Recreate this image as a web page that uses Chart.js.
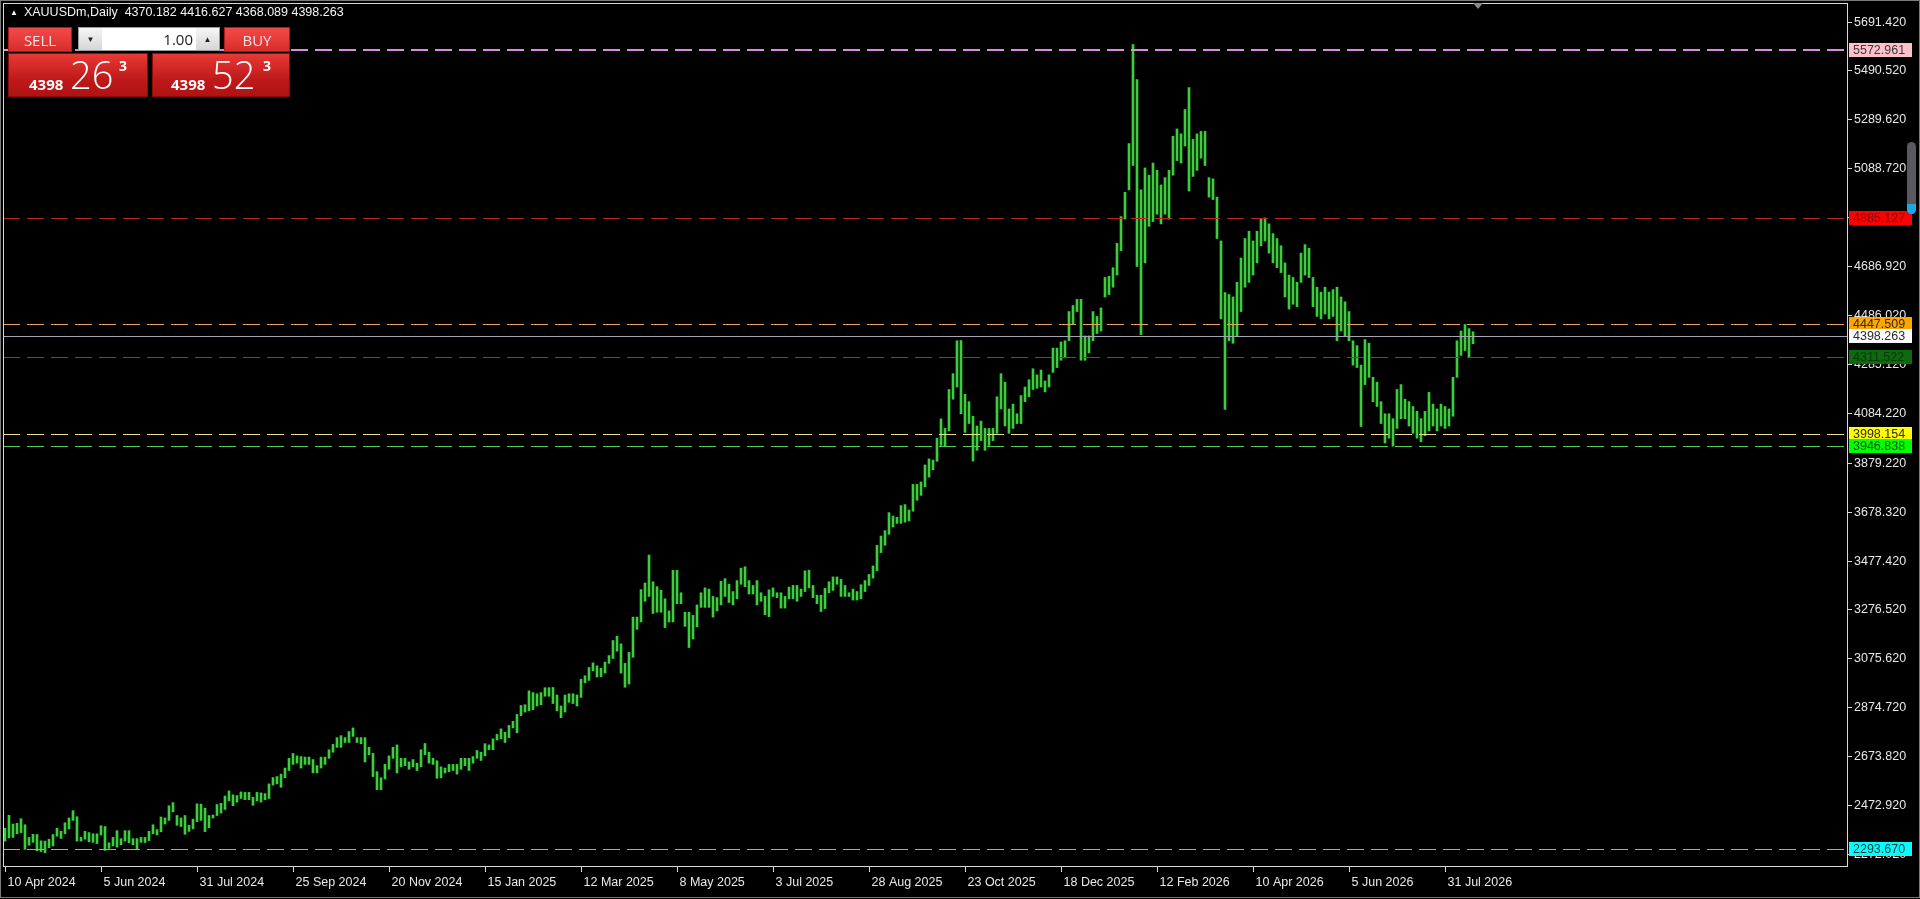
<!DOCTYPE html>
<html>
<head>
<meta charset="utf-8">
<title>XAUUSDm,Daily</title>
<script src="https://cdn.jsdelivr.net/npm/chart.js@4.4.1/dist/chart.umd.min.js"></script>
<style>
  html, body { margin: 0; padding: 0; background: #000; overflow: hidden; }
  #wrap { position: relative; width: 1920px; height: 899px; }
  #c { position: absolute; left: 0; top: 0; }
  .hdr { position: absolute; left: 10px; top: 5px; color: #f4f4f4; font: 12.5px "Liberation Sans", Arial, sans-serif; white-space: pre; }
  .hdr .tri { font-size: 8px; position: relative; top: -1px; margin-right: 6px; }
  .pnl { position: absolute; font-family: "Open Sans", "Liberation Sans", sans-serif; }
  .btn { position: absolute; top: 27px; height: 25px; line-height: 25px; text-align: center; color: #ffe2e2; font-size: 15px;
         background: linear-gradient(#f24a48, #d82c2a); box-sizing: border-box; border: 1px solid #b01818; }
  .lot { position: absolute; left: 78px; top: 27px; width: 142px; height: 24px; background: #fff; border: 1px solid #9a9a9a; box-sizing: border-box; }
  .lot .arr { position: absolute; top: 0; width: 23px; height: 22px; line-height: 22px; text-align: center; font-size: 8px; color: #222;
              background: linear-gradient(#f6f6f6, #d6d6d6); }
  .lot .val { position: absolute; right: 26px; top: 0; line-height: 22px; font-size: 15px; color: #1a1a1a; }
  .quote { position: absolute; top: 53px; height: 44px; background: linear-gradient(#e83a36, #c0191a 60%, #b01212); box-sizing: border-box; border: 1px solid #8c0a0a; color: #fff; }
  .quote span { position: absolute; }
  .quote .sm { font-size: 15px; font-weight: bold; top: 20px; }
  .quote .big { font-size: 38px; top: -6px; font-weight: 300; }
  .quote .sup { font-size: 14px; font-weight: bold; top: 2px; }
  .shift { position: absolute; left: 1473px; top: 3px; width: 0; height: 0; border-left: 5px solid transparent; border-right: 5px solid transparent; border-top: 6px solid #8a8a8a; }
  .sbar { position: absolute; left: 1907px; top: 142px; width: 9px; height: 72px; border-radius: 5px; background: #5a5a5e; overflow: hidden; }
  .sbar div { position: absolute; left: 0; bottom: 0; width: 9px; height: 10px; background: #1aa8e6; }
</style>
</head>
<body>
<div id="wrap">
  <canvas id="c" width="1920" height="899"></canvas>
  <div class="hdr" id="hdr"></div>
  <div class="pnl">
    <div class="btn" style="left:8px;width:64px;">SELL</div>
    <div class="lot"><span class="arr" style="left:0;">&#9660;</span><span class="val">1.00</span><span class="arr" style="right:0;">&#9650;</span></div>
    <div class="btn" style="left:224px;width:66px;">BUY</div>
    <div class="quote" style="left:8px;width:140px;"><span class="sm" style="left:20px;">4398</span><span class="big" style="left:61px;">26</span><span class="sup" style="left:110px;">3</span></div>
    <div class="quote" style="left:152px;width:138px;"><span class="sm" style="left:18px;">4398</span><span class="big" style="left:59px;">52</span><span class="sup" style="left:110px;">3</span></div>
  </div>
  <div class="shift"></div>
  <div class="sbar"><div></div></div>
</div>
<script>
// one sample per two daily bars: low / high of the pair
const lows2024 = [2325,2338,2340,2355,2360,2291,2308,2320,2285,2282,2277,2298,2305,2345,2336,2355,2375,2410,2325,2325,
  2333,2322,2320,2315,2350,2287,2295,2305,2300,2310,2325,2318,2310,2293,2320,2319,2327,2355,2350,2363,
  2395,2410,2445,2390,2385,2353,2365,2375,2405,2410,2364,2380,2420,2430,2440,2455,2490,2470,2485,2500,
  2495,2495,2472,2490,2485,2495,2500,2555,2560,2546,2585,2615,2640,2645,2625,2640,2640,2605,2605,2625,
  2640,2665,2690,2710,2710,2730,2730,2755,2730,2725,2650,2680,2590,2536,2536,2580,2620,2665,2605,2630,
  2635,2620,2630,2615,2630,2680,2645,2640,2583,2585,2605,2610,2615,2600];
const highs2024 = [2378,2431,2395,2398,2417,2392,2340,2353,2352,2326,2325,2332,2352,2378,2365,2400,2420,2450,2425,2340,
  2365,2360,2355,2355,2388,2385,2318,2340,2368,2335,2368,2368,2335,2335,2340,2340,2365,2392,2372,2424,
  2420,2470,2483,2430,2420,2430,2390,2415,2478,2477,2460,2430,2432,2475,2480,2510,2531,2515,2512,2527,
  2525,2525,2505,2525,2523,2520,2560,2586,2590,2600,2625,2665,2685,2675,2672,2670,2670,2660,2635,2670,
  2670,2700,2722,2750,2758,2750,2775,2790,2750,2750,2750,2710,2685,2610,2585,2640,2675,2710,2720,2665,
  2665,2650,2660,2645,2700,2726,2690,2665,2655,2630,2625,2640,2640,2640];

const lows2025 = [2620,2635,2615,2645,2665,2656,2675,2700,2700,2740,2745,2730,2750,2790,2770,2840,2855,2860,2865,2880,
  2885,2920,2920,2890,2860,2832,2855,2895,2890,2880,2915,2975,2985,3025,2999,3000,3015,3055,3075,3105,
  3015,2957,2970,3080,3195,3225,3310,3330,3260,3265,3265,3202,3225,3225,3300,3300,3207,3120,3155,3205,
  3285,3285,3285,3245,3270,3295,3330,3305,3295,3320,3380,3370,3340,3340,3295,3310,3255,3247,3330,3325,
  3282,3282,3320,3320,3310,3330,3350,3365,3325,3300,3268,3280,3345,3355,3380,3330,3330,3330,3315,3315,
  3320,3350,3375,3405,3435,3510,3540,3585,3615,3630,3630,3635,3640,3680,3725,3745,3780,3820,3850,3885,
  3950,3945,4010,4140,4190,4080,4004,4040,3886,3930,3970,3930,3950,3970,4000,4100,4030,4000,4020,4040,
  4040,4130,4150,4180,4185,4190,4170,4190,4250,4270,4300,4310,4380,4450,4500,4300];
const highs2025 = [2665,2665,2665,2672,2697,2690,2725,2720,2745,2763,2786,2772,2800,2817,2845,2882,2885,2942,2935,2930,
  2935,2955,2955,2956,2925,2880,2925,2930,2930,2925,2990,3004,3038,3057,3045,3035,3060,3087,3149,3167,
  3135,3055,3100,3245,3245,3358,3385,3500,3390,3370,3355,3320,3270,3437,3437,3345,3265,3265,3252,3295,
  3345,3365,3360,3330,3325,3392,3403,3380,3350,3395,3446,3452,3395,3375,3395,3345,3330,3357,3365,3345,
  3345,3330,3368,3375,3375,3360,3435,3438,3375,3335,3335,3363,3390,3410,3410,3400,3375,3345,3360,3350,
  3378,3395,3420,3455,3540,3578,3600,3674,3660,3655,3703,3707,3685,3790,3790,3800,3870,3895,3890,3980,
  4059,4020,4180,4245,4380,4381,4160,4130,4070,4030,4050,4020,4020,4020,4150,4245,4210,4100,4120,4080,
  4155,4190,4220,4265,4240,4260,4215,4240,4350,4350,4375,4380,4500,4525,4550,4550];

const lows2026 = [4300,4330,4380,4410,4420,4560,4570,4600,4650,4750,4880,5000,5100,4685,4405,4700,4850,4870,4900,4860,
  4900,4880,5060,5120,5110,5180,4995,5055,5080,5130,5100,4970,4960,4800,4470,4098,4380,4370,4400,4500,
  4600,4620,4650,4700,4770,4790,4740,4700,4680,4660,4560,4510,4530,4520,4620,4650,4640,4520,4480,4470,
  4490,4470,4480,4380,4420,4400,4380,4280,4270,4028,4200,4230,4130,4110,4040,3960,3980,3947,4020,4060,
  4060,4030,4000,3980,3965,3990,4010,4030,4010,4030,4020,4030,4070,4230,4320,4340,4312,4368];
const highs2026 = [4400,4400,4500,4480,4515,4640,4645,4680,4780,4890,4990,5190,5597,5453,5000,5090,5060,5110,5080,5020,
  5050,5080,5220,5250,5230,5330,5420,5207,5230,5240,5240,5050,5045,4970,4790,4578,4570,4560,4620,4720,
  4800,4830,4790,4830,4880,4885,4860,4820,4800,4770,4700,4650,4640,4620,4740,4775,4760,4640,4600,4580,
  4600,4580,4590,4600,4560,4540,4500,4380,4360,4280,4385,4370,4230,4210,4130,4080,4080,4060,4180,4200,
  4140,4130,4110,4090,4060,4090,4168,4120,4100,4120,4110,4100,4230,4380,4420,4447,4430,4417];

const lows = [...lows2024, ...lows2025, ...lows2026];
const highs = [...highs2024, ...highs2025, ...highs2026];

// right price scale labels as shown by the terminal
const priceTicks = [5691.42, 5490.52, 5289.62, 5088.72, 4887.82, 4686.92, 4486.02, 4285.12, 4084.22,
  3879.22, 3678.32, 3477.42, 3276.52, 3075.62, 2874.72, 2673.82, 2472.92, 2272.02];

// time scale labels, one every 48 daily bars (24 samples)
const dateLabels = ['10 Apr 2024', '5 Jun 2024', '31 Jul 2024', '25 Sep 2024', '20 Nov 2024', '15 Jan 2025',
  '12 Mar 2025', '8 May 2025', '3 Jul 2025', '28 Aug 2025', '23 Oct 2025', '18 Dec 2025', '12 Feb 2026',
  '10 Apr 2026', '5 Jun 2026', '31 Jul 2026'];
const samplesPerDateLabel = 24;

// horizontal levels
const levelPrices = [5572.961, 4885.127, 4447.509, 4311.522, 3998.154, 3946.838, 2293.670];
const bidPrice = 4398.263;
const lastBar = [4370.182, 4416.627, 4368.089, 4398.263];

const levelStyles = [
  { line: '#d98cd9', box: '#ffc0cb', text: '#3a3a3a', width: 2 },
  { line: '#b82424', box: '#ff0000', text: '#6e0000', width: 1 },
  { line: '#e3a060', box: '#ffa500', text: '#2a2a2a', width: 1 },
  { line: '#2c6e2c', box: '#0e6a0e', text: '#053805', width: 1 },
  { line: '#e8e08a', box: '#ffff00', text: '#2a2a2a', width: 1 },
  { line: '#52cc52', box: '#00ff00', text: '#0a4a0a', width: 1 },
  { line: '#5ec8c8', box: '#00ffff', text: '#1a3a3a', width: 1 }
];

class MtChart {
  constructor() {
    this.chart = null;
    this.font = '12.5px "Liberation Sans", Arial, sans-serif';
    this.init();
  }

  init() {
    document.getElementById('hdr').innerHTML =
      '<span class="tri">&#9650;</span>XAUUSDm,Daily  ' + lastBar.map(v => v.toFixed(3)).join(' ');
    this.buildChart();
  }

  drawLevels(chart) {
    const { ctx, chartArea: a, scales: { y } } = chart;
    ctx.save();
    ctx.beginPath();
    ctx.rect(a.left, a.top, a.right - a.left, a.bottom - a.top);
    ctx.clip();
    levelPrices.forEach((p, k) => {
      const st = levelStyles[k];
      const py = Math.round(y.getPixelForValue(p)) + (st.width === 1 ? 0.5 : 0);
      ctx.strokeStyle = st.line;
      ctx.lineWidth = st.width;
      ctx.setLineDash([17, 7]);
      ctx.beginPath();
      ctx.moveTo(a.left, py);
      ctx.lineTo(a.right, py);
      ctx.stroke();
    });
    // bid line
    const by = Math.round(y.getPixelForValue(bidPrice)) + 0.5;
    ctx.setLineDash([]);
    ctx.strokeStyle = '#a4a4b4';
    ctx.lineWidth = 1;
    ctx.beginPath();
    ctx.moveTo(a.left, by);
    ctx.lineTo(a.right, by);
    ctx.stroke();
    ctx.restore();
  }

  drawAxes(chart) {
    const { ctx, chartArea: a, scales: { x, y } } = chart;
    ctx.save();
    // frame
    ctx.strokeStyle = '#d8d8d8';
    ctx.lineWidth = 1;
    ctx.strokeRect(a.left + 0.5, a.top + 0.5, a.right - a.left, a.bottom - a.top);
    ctx.strokeStyle = '#7a7a7a';
    ctx.strokeRect(0.5, 0.5, 1919, 897);

    ctx.font = this.font;
    ctx.textBaseline = 'middle';
    ctx.fillStyle = '#e8e8e8';
    ctx.strokeStyle = '#d8d8d8';

    // price labels
    priceTicks.forEach(p => {
      const py = Math.round(y.getPixelForValue(p));
      ctx.beginPath();
      ctx.moveTo(a.right + 1, py + 0.5);
      ctx.lineTo(a.right + 5, py + 0.5);
      ctx.stroke();
      ctx.fillText(p.toFixed(3), a.right + 7, py + 1);
    });

    // date labels
    dateLabels.forEach((d, k) => {
      const px = Math.round(x.getPixelForValue(k * samplesPerDateLabel)) + 0.5;
      ctx.beginPath();
      ctx.moveTo(px, a.bottom + 1);
      ctx.lineTo(px, a.bottom + 6);
      ctx.stroke();
      ctx.fillText(d, px + 2, a.bottom + 17);
    });

    // level price boxes
    const boxes = levelPrices.map((p, k) => ({ p, st: levelStyles[k] }));
    boxes.push({ p: bidPrice, st: { box: '#ffffff', text: '#2a2a2a' } });
    boxes.forEach(b => {
      const py = Math.round(y.getPixelForValue(b.p));
      ctx.fillStyle = b.st.box;
      ctx.fillRect(a.right + 2, py - 7, 63, 14);
      ctx.fillStyle = b.st.text;
      ctx.fillText(b.p.toFixed(3), a.right + 6, py + 1);
    });
    ctx.restore();
  }

  buildChart() {
    const ctx = document.getElementById('c').getContext('2d');
    const self = this;
    const decor = {
      id: 'mtDecor',
      beforeDraw(chart) {
        chart.ctx.save();
        chart.ctx.fillStyle = '#000';
        chart.ctx.fillRect(0, 0, chart.width, chart.height);
        chart.ctx.restore();
      },
      afterDatasetsDraw(chart) { self.drawLevels(chart); },
      afterDraw(chart) { self.drawAxes(chart); }
    };

    this.chart = new Chart(ctx, {
      type: 'bar',
      data: {
        datasets: [{
          data: lows.map((lo, k) => ({ x: k, y: [lo, highs[k]] })),
          backgroundColor: '#3dcc3d',
          barThickness: 2,
          borderWidth: 0,
          borderSkipped: false
        }]
      },
      options: {
        responsive: false,
        animation: false,
        devicePixelRatio: 1,
        layout: { padding: { left: 3, top: 3, right: 73, bottom: 33 } },
        plugins: { legend: { display: false }, tooltip: { enabled: false } },
        scales: {
          x: { type: 'linear', offset: false, bounds: 'ticks', min: -0.5, max: 460.5, display: false },
          y: { min: 2222.68, max: 5767.41, display: false }
        }
      },
      plugins: [decor]
    });
  }
}

new MtChart();
</script>
</body>
</html>
